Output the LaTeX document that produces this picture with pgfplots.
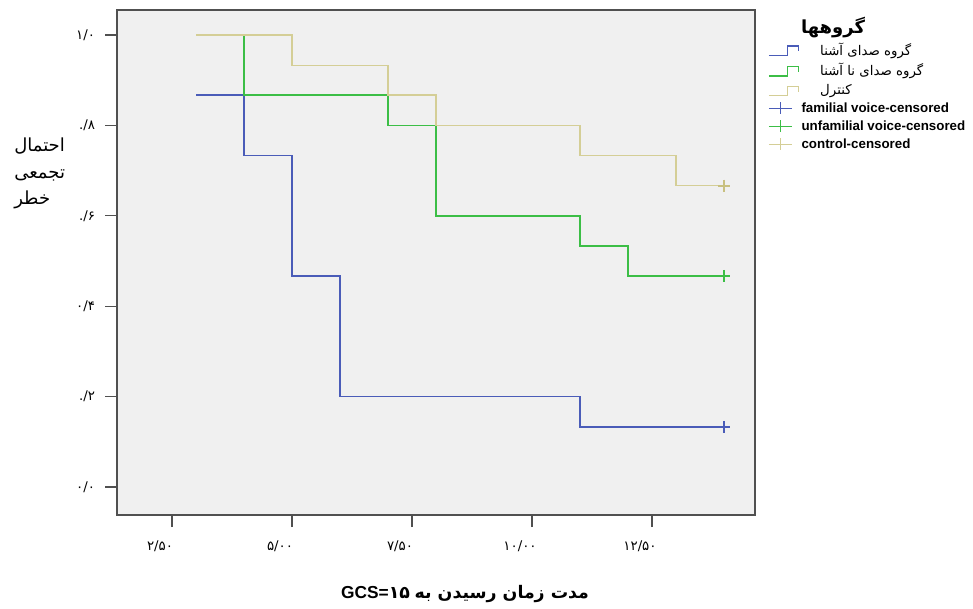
\documentclass[border=0pt]{standalone}
\usepackage{pgfplots}
\pgfplotsset{compat=1.18}
\usepackage{fontspec}
\setmainfont{Liberation Sans}
\newfontfamily\arabicfont[Script=Arabic]{DejaVu Sans}
\newfontfamily\digitfont{DejaVu Sans}
\TeXXeTstate=1
\definecolor{cblue}{RGB}{74,92,184}
\definecolor{cgreen}{RGB}{60,190,70}
\definecolor{ctan}{RGB}{212,206,150}
\definecolor{ctanm}{RGB}{200,192,128}
\definecolor{bgray}{RGB}{240,240,240}
\definecolor{axgray}{RGB}{80,80,80}
\begin{document}
\begin{tikzpicture}
\useasboundingbox (-87.75pt,-69.75pt) rectangle (642pt,386.25pt);
\begin{axis}[
  at={(0,0)}, anchor=south west,
  width=478.5pt, height=378.75pt, scale only axis,
  xmin=1.354, xmax=14.646, ymin=-0.0619, ymax=1.0553,
  axis background/.style={fill=bgray},
  axis line style={axgray, line width=1pt},
  tick align=outside, major tick length=9pt,
  tick style={axgray, line width=1pt},
  xtick={2.5,5,7.5,10,12.5},
  xticklabels={{\digitfont ۲/۵۰},{\digitfont ۵/۰۰},{\digitfont ۷/۵۰},{\digitfont ۱۰/۰۰},{\digitfont ۱۲/۵۰}},
  ytick={0,0.2,0.4,0.6,0.8,1},
  yticklabels={{\digitfont ۰/۰},{\digitfont ./۲},{\digitfont ۰/۴},{\digitfont ./۶},{\digitfont ./۸},{\digitfont ۱/۰}},
  xticklabel style={font=\fontsize{10}{11}\selectfont, xshift=-9pt, yshift=-7pt},
  yticklabel style={font=\fontsize{10}{11}\selectfont, xshift=-4pt},
  xtick pos=bottom, ytick pos=left,
  legend style={at={(1.014,0.9465)}, anchor=north west, draw=none, fill=none,
    font=\fontsize{10}{12}\selectfont\bfseries, row sep=0.7pt,
    cells={anchor=west, inner xsep=1.5pt}},
  legend image post style={line width=1pt},
  clip=false,
]
\addplot[cblue, line width=1.1pt, const plot, forget plot] coordinates {(3,0.867) (4,0.733) (5,0.467) (6,0.2) (11,0.133) (14,0.133)};
\addplot[cgreen, line width=1.1pt, const plot, forget plot] coordinates {(3,1) (4,0.867) (7,0.8) (8,0.6) (11,0.533) (12,0.467) (14,0.467)};
\addplot[ctan, line width=1.1pt, const plot, forget plot] coordinates {(3,1) (5,0.933) (7,0.867) (8,0.8) (11,0.733) (13,0.667) (14,0.667)};
\addplot[cblue, only marks, mark=+, mark size=4.5pt, line width=1.5pt, forget plot] coordinates {(14,0.133)};
\addplot[cgreen, only marks, mark=+, mark size=4.5pt, line width=1.5pt, forget plot] coordinates {(14,0.467)};
\addplot[ctanm, only marks, mark=+, mark size=4.5pt, line width=1.5pt, forget plot] coordinates {(14,0.667)};
\pgfplotsset{step legend/.style={legend image code/.code={
  \draw[##1] (0pt,-4pt) -- (14pt,-4pt) -- (14pt,3pt) -- (22pt,3pt) -- (22pt,-1pt);}}}
\addlegendimage{cblue, step legend}
\addlegendentry{\hspace{14pt}{\arabicfont\mdseries\beginR گروه صدای آشنا\endR}}
\addlegendimage{cgreen, step legend}
\addlegendentry{\hspace{14pt}{\arabicfont\mdseries\beginR گروه صدای نا آشنا\endR}}
\addlegendimage{ctan, step legend}
\addlegendentry{\hspace{14pt}{\arabicfont\mdseries\beginR کنترل\endR}}
\addlegendimage{cblue, mark=+, mark size=4.5pt}
\addlegendentry{familial voice-censored}
\addlegendimage{cgreen, mark=+, mark size=4.5pt}
\addlegendentry{unfamilial voice-censored}
\addlegendimage{ctan, mark=+, mark size=4.5pt}
\addlegendentry{control-censored}
\end{axis}
\node at (537pt,365.25pt) {\arabicfont\bfseries\fontsize{13.5}{15}\selectfont\beginR گروهها\endR};
\node[align=left, font=\arabicfont\fontsize{13.5}{20}\selectfont] at (-58pt,256pt) {\beginR احتمال\endR\\\beginR تجمعی\endR\\\beginR خطر\endR};
\node[font=\fontsize{13}{15}\selectfont\bfseries] at (261pt,-59pt) {GCS={\arabicfont ۱۵} {\arabicfont\beginR مدت زمان رسیدن به\endR}};
\end{tikzpicture}
\end{document}
